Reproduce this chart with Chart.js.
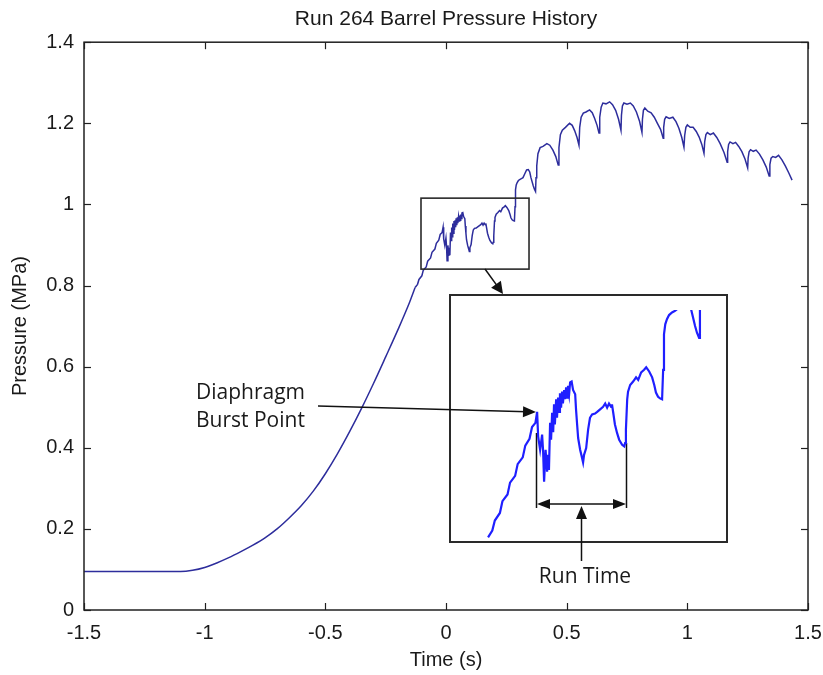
<!DOCTYPE html>
<html><head><meta charset="utf-8">
<script src="https://cdn.jsdelivr.net/npm/chart.js@4.4.1/dist/chart.umd.min.js"></script>
<style>
html,body{margin:0;padding:0;background:#fff;}
#wrap{position:relative;width:823px;height:675px;overflow:hidden;}
#main{position:absolute;left:0;top:0;}
#inset{position:absolute;left:450px;top:310px;}
</style></head><body>
<div id="wrap"><canvas id="main" width="823" height="675"></canvas><canvas id="inset" width="277" height="232"></canvas></div>
<script>
// ---- data ----
const riseTime = [-1.5, -1.4, -1.3, -1.2, -1.1, -1.05, -1.0, -0.95, -0.9, -0.85, -0.8, -0.75, -0.7, -0.65, -0.6, -0.55, -0.5, -0.45, -0.4, -0.35, -0.3, -0.25, -0.2, -0.15, -0.128];
const riseP    = [0.095, 0.095, 0.095, 0.095, 0.095, 0.098, 0.105, 0.116, 0.129, 0.144, 0.160, 0.178, 0.200, 0.227, 0.257, 0.293, 0.336, 0.385, 0.439, 0.497, 0.559, 0.624, 0.690, 0.760, 0.795];

const stepTime = [-0.128, -0.118, -0.112, -0.100, -0.094, -0.082, -0.076, -0.064, -0.058, -0.046, -0.040, -0.030, -0.024, -0.016, -0.012];
const stepP    = [0.795, 0.803, 0.815, 0.824, 0.838, 0.846, 0.860, 0.868, 0.882, 0.890, 0.904, 0.912, 0.926, 0.931, 0.944];

const burstTime = [-0.0096, -0.0049, -0.0002, 0.0022, 0.0045, 0.008, 0.0116, 0.014, 0.016, 0.0187,
  0.021, 0.0235, 0.026, 0.028, 0.030, 0.033, 0.035, 0.0376, 0.040, 0.042,
  0.0447, 0.047, 0.049, 0.052, 0.054, 0.0566, 0.059, 0.061, 0.0637, 0.066,
  0.0696, 0.073, 0.078, 0.080, 0.0826, 0.085, 0.0897, 0.094, 0.0967, 0.099,
  0.104, 0.1086, 0.113, 0.118, 0.125, 0.130, 0.137, 0.144, 0.149, 0.1535,
  0.158, 0.163, 0.165, 0.168, 0.172, 0.177, 0.182, 0.189, 0.194, 0.196,
  0.198, 0.201, 0.203, 0.208, 0.215, 0.222, 0.227, 0.234, 0.241, 0.246,
  0.253, 0.260, 0.265, 0.269, 0.274, 0.2787, 0.2835, 0.286, 0.288, 0.291,
  0.295, 0.300, 0.307, 0.314, 0.319, 0.326, 0.334, 0.341, 0.347, 0.352,
  0.3615, 0.366, 0.371, 0.373, 0.376];
const burstP = [0.915, 0.899, 0.917, 0.897, 0.861, 0.899, 0.873, 0.893, 0.875, 0.931,
  0.911, 0.943, 0.920, 0.953, 0.929, 0.959, 0.937, 0.961, 0.944, 0.966,
  0.949, 0.968, 0.954, 0.970, 0.959, 0.973, 0.961, 0.975, 0.965, 0.979,
  0.980, 0.970, 0.965, 0.947, 0.929, 0.913, 0.899, 0.890, 0.884, 0.893,
  0.901, 0.923, 0.937, 0.941, 0.942, 0.944, 0.947, 0.950, 0.954, 0.949,
  0.954, 0.950, 0.953, 0.943, 0.929, 0.919, 0.911, 0.905, 0.903, 0.907,
  0.923, 0.959, 0.968, 0.976, 0.980, 0.985, 0.982, 0.991, 0.994, 0.997,
  0.992, 0.985, 0.976, 0.967, 0.962, 0.960, 0.959, 0.994, 1.036, 1.048,
  1.054, 1.059, 1.062, 1.064, 1.066, 1.075, 1.085, 1.086, 1.080, 1.066,
  1.046, 1.038, 1.032, 1.066, 1.095];

const cycleTime = [0.381, 0.390, 0.402, 0.418, 0.430, 0.443, 0.455, 0.465,
  0.468, 0.474, 0.482, 0.495, 0.512, 0.523, 0.533, 0.543, 0.551,
  0.554, 0.560, 0.569, 0.580, 0.595, 0.606, 0.616, 0.626, 0.634,
  0.637, 0.643, 0.650, 0.663, 0.678, 0.690, 0.703, 0.715, 0.725,
  0.727, 0.731, 0.737, 0.750, 0.764, 0.776, 0.789, 0.802, 0.812,
  0.814, 0.818, 0.824, 0.836, 0.850, 0.863, 0.876, 0.889, 0.900,
  0.902, 0.906, 0.912, 0.925, 0.940, 0.953, 0.965, 0.977, 0.986,
  0.989, 0.994, 1.000, 1.012, 1.024, 1.037, 1.049, 1.060, 1.069,
  1.072, 1.077, 1.083, 1.095, 1.108, 1.122, 1.136, 1.152, 1.165,
  1.167, 1.171, 1.177, 1.189, 1.200, 1.213, 1.226, 1.239, 1.250,
  1.252, 1.256, 1.262, 1.273, 1.285, 1.299, 1.313, 1.327, 1.339,
  1.342, 1.347, 1.354, 1.366, 1.378, 1.392, 1.406, 1.420, 1.434];
const cycleP = [1.125, 1.140, 1.143, 1.150, 1.146, 1.134, 1.118, 1.097,
  1.140, 1.172, 1.183, 1.190, 1.200, 1.195, 1.182, 1.165, 1.146,
  1.190, 1.215, 1.225, 1.228, 1.233, 1.226, 1.212, 1.195, 1.176,
  1.215, 1.240, 1.250, 1.248, 1.253, 1.246, 1.232, 1.210, 1.183,
  1.220, 1.243, 1.250, 1.247, 1.250, 1.243, 1.228, 1.205, 1.178,
  1.210, 1.232, 1.238, 1.230, 1.226, 1.215, 1.200, 1.185, 1.163,
  1.190, 1.210, 1.216, 1.212, 1.215, 1.204, 1.188, 1.165, 1.141,
  1.170, 1.190, 1.196, 1.190, 1.190, 1.180, 1.166, 1.148, 1.126,
  1.155, 1.172, 1.177, 1.172, 1.176, 1.165, 1.150, 1.128, 1.104,
  1.130, 1.148, 1.154, 1.150, 1.153, 1.143, 1.130, 1.112, 1.090,
  1.115, 1.130, 1.135, 1.131, 1.134, 1.124, 1.110, 1.092, 1.070,
  1.098, 1.114, 1.118, 1.116, 1.121, 1.110, 1.095, 1.078, 1.060];

const xTickStep = 0.5, xMin = -1.5, xMax = 1.5;
const yTickStep = 0.2, yMin = 0, yMax = 1.4;
const titleText = 'Run 264 Barrel Pressure History';
const xTitle = 'Time (s)';
const yTitle = 'Pressure (MPa)';
// zoom window of the inset (data units)
const zoomBox = {x0: -0.1036, x1: 0.344, y0: 0.8405, y1: 1.0155};
const insetRange = {x0: -0.218, x1: 0.437, y0: 0.7895, y1: 1.065, tStart: -0.128};
const labelBurst = ['Diaphragm', 'Burst Point'];
const labelRun = 'Run Time';

// ---- build series ----
const risePts = riseTime.map((t, i) => ({x: t, y: riseP[i]}));
const restTime = stepTime.concat(burstTime, cycleTime);
const restP = stepP.concat(burstP, cycleP);
const restPts = restTime.map((t, i) => ({x: t, y: restP[i]}));
const insetPts = restPts.filter(p => p.x >= insetRange.tStart && p.x <= 0.40);

const AXFONT = "'Liberation Sans', Arial, sans-serif";
const NOTEFONT = "'Open Sans', 'Noto Sans', sans-serif";
Chart.defaults.font.family = AXFONT;
Chart.defaults.color = '#1a1a1a';
const fmt = v => String(Math.round(v * 10) / 10);

function arrow(ctx, x1, y1, x2, y2, head, half) {
  const a = Math.atan2(y2 - y1, x2 - x1), c = Math.cos(a), s = Math.sin(a);
  ctx.beginPath(); ctx.moveTo(x1, y1); ctx.lineTo(x2 - head * 0.7 * c, y2 - head * 0.7 * s); ctx.stroke();
  ctx.beginPath(); ctx.moveTo(x2, y2);
  ctx.lineTo(x2 - head * c + half * s, y2 - head * s - half * c);
  ctx.lineTo(x2 - head * c - half * s, y2 - head * s + half * c);
  ctx.closePath(); ctx.fill();
}
function seg(ctx, x1, y1, x2, y2) { ctx.beginPath(); ctx.moveTo(x1, y1); ctx.lineTo(x2, y2); ctx.stroke(); }

const framePlugin = {
  id: 'framePlugin',
  afterDraw(chart) {
    const {ctx, chartArea: a, scales: {x, y}} = chart;
    ctx.save();
    ctx.strokeStyle = '#202020'; ctx.fillStyle = '#111';
    ctx.lineWidth = 1.5;
    ctx.strokeRect(a.left, a.top, a.right - a.left, a.bottom - a.top);
    const L = 7;
    ctx.lineWidth = 1.2;
    x.ticks.forEach(t => {
      const p = Math.round(x.getPixelForValue(t.value)) + 0.5;
      seg(ctx, p, a.bottom, p, a.bottom - L); seg(ctx, p, a.top, p, a.top + L);
    });
    y.ticks.forEach(t => {
      const p = Math.round(y.getPixelForValue(t.value)) + 0.5;
      seg(ctx, a.left, p, a.left + L, p); seg(ctx, a.right, p, a.right - L, p);
    });
    // zoom window on the curve
    const bx0 = x.getPixelForValue(zoomBox.x0), bx1 = x.getPixelForValue(zoomBox.x1);
    const by0 = y.getPixelForValue(zoomBox.y1), by1 = y.getPixelForValue(zoomBox.y0);
    ctx.strokeStyle = '#2a2a2a'; ctx.lineWidth = 1.6;
    ctx.strokeRect(bx0, by0, bx1 - bx0, by1 - by0);
    // inset frame
    ctx.lineWidth = 2;
    ctx.strokeRect(450, 295, 277, 247);
    // arrows
    ctx.strokeStyle = '#111'; ctx.lineWidth = 1.5;
    arrow(ctx, 485, 269, 503, 294, 12, 6);
    arrow(ctx, 318, 406, 536, 412, 13, 5.5);
    // run time bracket
    seg(ctx, 536.5, 433, 536.5, 508);
    seg(ctx, 626.5, 443, 626.5, 508);
    arrow(ctx, 581, 504, 537, 504, 13, 5);
    arrow(ctx, 581, 504, 626, 504, 13, 5);
    arrow(ctx, 581.5, 561, 581.5, 506, 13, 5.5);
    // notes
    ctx.fillStyle = '#1a1a1a';
    ctx.font = "21px " + NOTEFONT;
    ctx.textAlign = 'left'; ctx.textBaseline = 'alphabetic';
    ctx.fillText(labelBurst[0], 196, 399);
    ctx.fillText(labelBurst[1], 196, 427);
    ctx.textAlign = 'center';
    ctx.fillText(labelRun, 585, 583);
    ctx.restore();
  }
};

const lineStyle = { borderColor: '#2d2d9c', borderWidth: 1.5, pointRadius: 0, fill: false };
new Chart(document.getElementById('main'), {
  type: 'line',
  data: { datasets: [
    Object.assign({ data: risePts, cubicInterpolationMode: 'monotone' }, lineStyle),
    Object.assign({ data: restPts, tension: 0 }, lineStyle)
  ] },
  options: {
    responsive: false, animation: false, devicePixelRatio: 1,
    layout: { padding: { top: 0, right: 15, left: 0, bottom: 0 } },
    plugins: {
      legend: { display: false }, tooltip: { enabled: false },
      title: { display: true, fullSize: false, text: titleText, color: '#1a1a1a', font: { size: 21, weight: 'normal', family: AXFONT }, padding: { top: 7, bottom: 10 } }
    },
    scales: {
      x: { type: 'linear', min: xMin, max: xMax,
        grid: { display: false, drawTicks: false }, border: { display: false },
        ticks: { stepSize: xTickStep, padding: 11, font: { size: 20 }, color: '#1a1a1a', maxRotation: 0, callback: fmt },
        title: { display: true, text: xTitle, font: { size: 20 }, color: '#1a1a1a', padding: { top: 0, bottom: 3 } },
        afterFit: s => { s.height = 65; s.paddingLeft = 0; s.paddingRight = 0; } },
      y: { min: yMin, max: yMax,
        grid: { display: false, drawTicks: false }, border: { display: false },
        ticks: { stepSize: yTickStep, padding: 10, font: { size: 20 }, color: '#1a1a1a', callback: fmt },
        title: { display: true, text: yTitle, font: { size: 20 }, color: '#1a1a1a', padding: { top: 8, bottom: 0 } },
        afterFit: s => { s.width = 84; s.paddingTop = 0; s.paddingBottom = 0; } }
    }
  },
  plugins: [framePlugin]
});

new Chart(document.getElementById('inset'), {
  type: 'line',
  data: { datasets: [{ data: insetPts, borderColor: '#1f1fff', borderWidth: 2.2, pointRadius: 0, tension: 0, fill: false }] },
  options: {
    responsive: false, animation: false, devicePixelRatio: 1,
    layout: { padding: 0 },
    plugins: { legend: { display: false }, tooltip: { enabled: false }, title: { display: false } },
    scales: {
      x: { type: 'linear', display: false, min: insetRange.x0, max: insetRange.x1 },
      y: { display: false, min: insetRange.y0, max: insetRange.y1 }
    }
  }
});
</script>
</body></html>
